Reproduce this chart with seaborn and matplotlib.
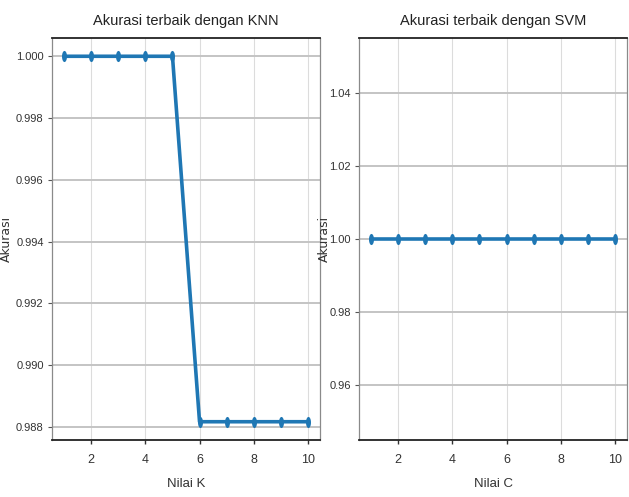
import numpy as np
import matplotlib
matplotlib.use("Agg")
import matplotlib.pyplot as plt
from matplotlib.path import Path
import seaborn as sns

k_values = [1, 2, 3, 4, 5, 6, 7, 8, 9, 10]
knn_acc = [1.0, 1.0, 1.0, 1.0, 1.0, 0.98817, 0.98817, 0.98817, 0.98817, 0.98817]
c_values = [1, 2, 3, 4, 5, 6, 7, 8, 9, 10]
svm_acc = [1.0, 1.0, 1.0, 1.0, 1.0, 1.0, 1.0, 1.0, 1.0, 1.0]

titles = ["Akurasi terbaik dengan KNN", "Akurasi terbaik dengan SVM"]
xlabels = ["Nilai K", "Nilai C"]
ylabel = "Akurasi"

sns.set_theme(style="whitegrid")
plt.rcParams["font.family"] = ["Liberation Sans", "DejaVu Sans"]

theta = np.linspace(0, 2 * np.pi, 48)
ell = Path(np.column_stack([0.45 * np.cos(theta), np.sin(theta)]), closed=True)

fig = plt.figure(figsize=(6.29, 4.97), dpi=100)
fig.patch.set_facecolor("white")
positions = [[52/629, 57/497, 268/629, 402/497], [359/629, 57/497, 268/629, 402/497]]
color = "#1f77b4"

for i, (xs, ys) in enumerate([(k_values, knn_acc), (c_values, svm_acc)]):
    ax = fig.add_axes(positions[i])
    sns.lineplot(x=xs, y=ys, ax=ax, color=color, lw=2.6, marker=ell,
                 markersize=8, markeredgewidth=0, zorder=3)
    ax.set_xticks([2, 4, 6, 8, 10])
    ax.grid(True, axis="y", color="#c4c4c4", lw=1.4)
    ax.grid(True, axis="x", color="#dcdcdc", lw=0.8)
    for s in ["top", "bottom"]:
        ax.spines[s].set_color("#222222")
        ax.spines[s].set_linewidth(1.3)
    for s in ["left", "right"]:
        ax.spines[s].set_color("#8a8a8a")
        ax.spines[s].set_linewidth(0.9)
    ax.tick_params(axis="both", which="major", length=3, width=1, color="#333333",
                   labelsize=9, labelcolor="#333333")
    ax.tick_params(axis="x", pad=7)
    ax.tick_params(axis="y", length=3, width=0.8, color="#555555", pad=3, labelsize=8)
    ax.tick_params(left=True, bottom=True)
    ax.set_title(titles[i], fontsize=10.5, color="#222222", pad=9)
    ax.set_xlabel(xlabels[i], fontsize=9.5, color="#333333", labelpad=9)
    ax.set_ylabel(ylabel, fontsize=9, color="#333333", family="DejaVu Sans")

fig.axes[0].yaxis.set_label_coords(-0.145, 0.5)
fig.axes[1].yaxis.set_label_coords(-0.105, 0.5)

fig.savefig("out.png", dpi=100, facecolor="white")
